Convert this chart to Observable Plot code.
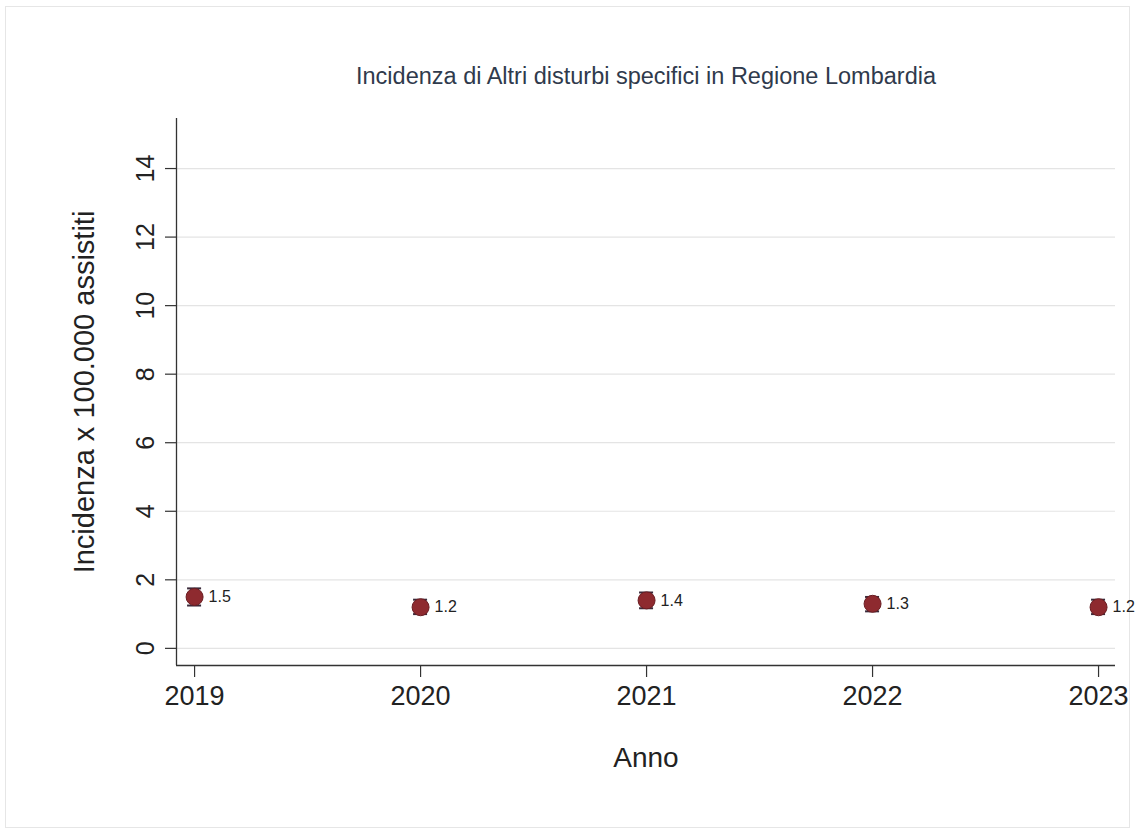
<!DOCTYPE html>
<html>
<head>
<meta charset="utf-8">
<script src="https://cdn.jsdelivr.net/npm/d3@7"></script>
<script src="https://cdn.jsdelivr.net/npm/@observablehq/plot@0.6"></script>
<style>
  html, body { margin: 0; padding: 0; background: #fff; }
  #wrap { position: relative; width: 1137px; height: 835px; }
  #border { position: absolute; left: 5px; top: 6px; width: 1125px; height: 822px; border: 1px solid #e6e6e6; box-sizing: border-box; pointer-events: none; }
  #chart { position: absolute; left: 0; top: 0; }
</style>
</head>
<body>
<div id="wrap"><div id="border"></div><div id="chart"></div></div>
<script>
const title = "Incidenza di Altri disturbi specifici in Regione Lombardia";
const yLabel = "Incidenza x 100.000 assistiti";
const xLabel = "Anno";
const years = [2019, 2020, 2021, 2022, 2023];
const incidence = [1.5, 1.2, 1.4, 1.3, 1.2];
const lower = [1.25, 1.0, 1.17, 1.08, 1.0];
const upper = [1.75, 1.42, 1.63, 1.5, 1.42];
const labels = ["1.5", "1.2", "1.4", "1.3", "1.2"];
const yTicks = [0, 2, 4, 6, 8, 10, 12, 14];

const data = years.map((y, i) => ({year: y, v: incidence[i], lo: lower[i], hi: upper[i], lab: labels[i]}));

const xDom = [2018.92, 2023.075];
const yDom = [-0.5, 15.46];
const font = "Liberation Sans, Arial, Helvetica, sans-serif";
const red = "#8e2a2f";

const chart = Plot.plot({
  width: 1137,
  height: 835,
  marginLeft: 176,
  marginRight: 22,
  marginTop: 118,
  marginBottom: 170,
  style: {fontFamily: font, background: "transparent", color: "#222"},
  x: {type: "linear", domain: xDom, axis: null},
  y: {type: "linear", domain: yDom, axis: null},
  marks: [
    Plot.gridY(yTicks, {stroke: "#e4e4e4", strokeOpacity: 1, strokeWidth: 1.2}),
    Plot.ruleX([xDom[0]], {stroke: "#333", strokeWidth: 1.3}),
    Plot.ruleY([yDom[0]], {stroke: "#333", strokeWidth: 1.3}),
    Plot.axisY({ticks: yTicks, tickSize: 11, tickFormat: () => "", stroke: "#333", strokeWidth: 1.2, label: null}),
    Plot.text(yTicks, {x: xDom[0], y: d => d, text: d => String(d), rotate: -90, dx: -23, lineAnchor: "bottom", textAnchor: "middle", fontSize: 25, fill: "#222"}),
    Plot.axisX({ticks: years, tickSize: 12, tickFormat: d => String(d), fontSize: 27, tickPadding: 8, stroke: "#333", strokeWidth: 1.2, label: null, fill: "#222"}),
    Plot.text([xLabel], {frameAnchor: "bottom", dy: 101, text: d => d, fontSize: 28, fill: "#222"}),
    Plot.text([yLabel], {frameAnchor: "left", dx: -92, rotate: -90, textAnchor: "middle", text: d => d, fontSize: 29, fill: "#222"}),
    Plot.text([title], {frameAnchor: "top", dy: -51, text: d => d, fontSize: 23.5, fill: "#2f3a4c"}),
    Plot.ruleX(data, {x: "year", y1: "lo", y2: "hi", stroke: "#3a2a3a", strokeWidth: 2}),
    Plot.ruleY(data, {y: "lo", x1: d => d.year - 0.031, x2: d => d.year + 0.031, stroke: "#3a2a3a", strokeWidth: 2}),
    Plot.ruleY(data, {y: "hi", x1: d => d.year - 0.031, x2: d => d.year + 0.031, stroke: "#3a2a3a", strokeWidth: 2}),
    Plot.dot(data, {x: "year", y: "v", r: 8.5, fill: red, stroke: "#6a1d22", strokeWidth: 1}),
    Plot.text(data, {x: "year", y: "v", text: "lab", dx: 14, textAnchor: "start", fontSize: 16, fill: "#222"})
  ]
});
document.getElementById("chart").appendChild(chart);
</script>
</body>
</html>
